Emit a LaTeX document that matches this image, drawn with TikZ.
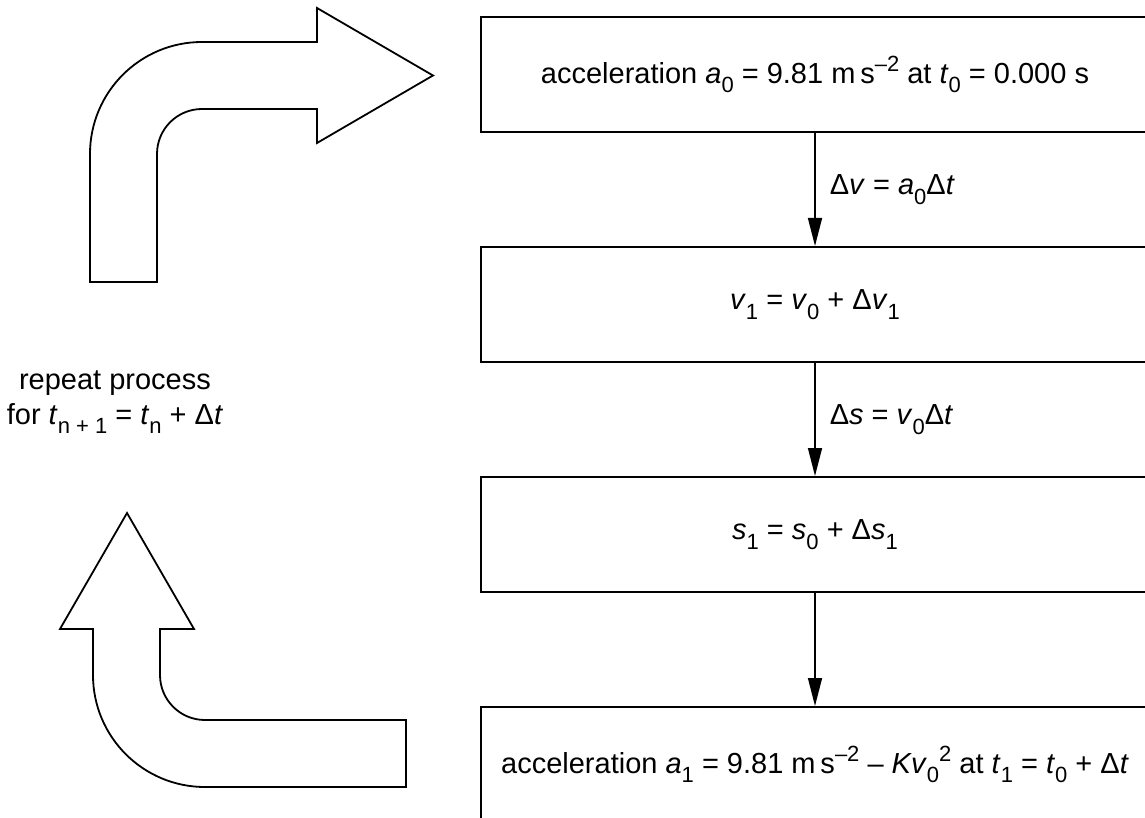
\documentclass[tikz,border=0pt]{standalone}
\usepackage{fontspec}
\setmainfont{Liberation Sans}
\usetikzlibrary{arrows.meta}
\newcommand{\lo}[1]{\raisebox{-0.32em}{\fontsize{11}{11}\selectfont #1}}
\newcommand{\hi}[1]{\raisebox{0.42em}{\fontsize{11}{11}\selectfont #1}}
\newcommand{\vi}[1]{\textit{#1}}
\tikzset{
  procbox/.style={draw, line width=1pt, minimum width=334pt, minimum height=57.5pt, inner sep=0pt, anchor=center},
  conn/.style={line width=0.75pt, -{Triangle[length=14pt,width=7pt]}},
  lbl/.style={anchor=west, xshift=7pt, inner sep=0pt},
  bentarrow/.style={draw, line width=0.9pt, line join=miter, fill=white}
}
\begin{document}
\begin{tikzpicture}[x=0.5pt,y=-0.5pt, font=\fontsize{14.5}{17.5}\selectfont]
\path[use as bounding box] (0,0) rectangle (1145,818);
\clip (0,0) rectangle (1145,818);

% process boxes
\node[procbox] (b1) at (815,74.5) {acceleration \vi{a}\lo{0} = 9.81 m\,s\hi{–2} at \vi{t}\lo{0} = 0.000 s};
\node[procbox] (b2) at (815,304.5) {\vi{v}\lo{1} = \vi{v}\lo{0} + Δ\vi{v}\lo{1}};
\node[procbox] (b3) at (815,534.5) {\vi{s}\lo{1} = \vi{s}\lo{0} + Δ\vi{s}\lo{1}};
\node[procbox] (b4) at (815,764.5) {acceleration \vi{a}\lo{1} = 9.81 m\,s\hi{–2} – \vi{Kv}\lo{0}\hi{2} at \vi{t}\lo{1} = \vi{t}\lo{0} + Δ\vi{t}};

% connectors
\draw[conn] (b1) -- node[lbl] (l1) {Δ\vi{v} = \vi{a}\lo{0}Δ\vi{t}} (b2);
\draw[conn] (b2) -- node[lbl] (l2) {Δ\vi{s} = \vi{v}\lo{0}Δ\vi{t}} (b3);
\draw[conn] (b3) -- (b4);

% repeat text
\node[align=center, inner sep=0pt] (rep) at (115,402) {repeat process\\for \vi{t}\lo{n + 1} = \vi{t}\lo{n} + Δ\vi{t}};

% top bent arrow
\path[bentarrow] (90,282) -- (90,154)
  .. controls (90,92.1) and (140.1,42) .. (202,42)
  -- (317,42) -- (317,8) -- (433,75.5) -- (317,143) -- (317,109) -- (202,109)
  .. controls (177.1,109) and (157,129.1) .. (157,154)
  -- (157,282) -- cycle;

% bottom bent arrow
\path[bentarrow] (127,513) -- (194,629) -- (160,629) -- (160,675)
  .. controls (160,699.9) and (180.1,720) .. (205,720)
  -- (406,720) -- (406,787) -- (205,787)
  .. controls (143.1,787) and (93,736.9) .. (93,675)
  -- (93,629) -- (60,629) -- cycle;
\end{tikzpicture}
\end{document}
